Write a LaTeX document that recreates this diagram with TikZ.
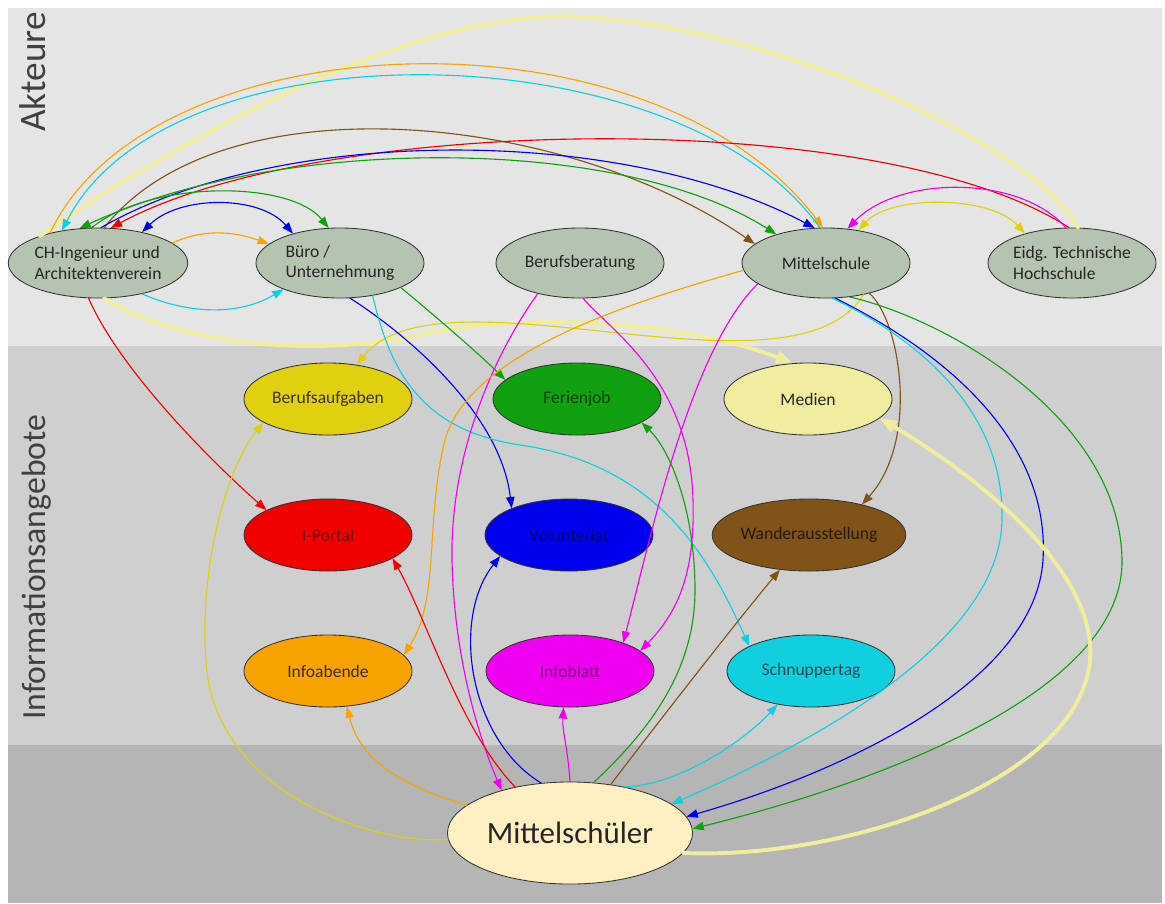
\documentclass[tikz,border=0pt]{standalone}
\usepackage{fontspec}
\setmainfont{Carlito}
\usetikzlibrary{shapes.geometric,arrows.meta}
\definecolor{bandtop}{RGB}{229,229,229}
\definecolor{bandmid}{RGB}{207,207,207}
\definecolor{bandlow}{RGB}{181,181,181}
\definecolor{actorfill}{RGB}{180,196,176}
\definecolor{cBA}{RGB}{224,208,16}
\definecolor{cFJ}{RGB}{16,160,16}
\definecolor{cMED}{RGB}{240,236,160}
\definecolor{cIP}{RGB}{240,0,0}
\definecolor{cVOL}{RGB}{0,0,240}
\definecolor{cWA}{RGB}{128,84,24}
\definecolor{cIA}{RGB}{248,164,0}
\definecolor{cIB}{RGB}{240,0,240}
\definecolor{cSCH}{RGB}{16,208,224}
\definecolor{cMS}{RGB}{255,240,196}
\newcommand{\nodesize}{\fontsize{12.5}{14.5}\selectfont}
\newcommand{\bandsize}{\fontsize{24}{28}\selectfont}
\newcommand{\pupilsize}{\fontsize{22}{26}\selectfont}

\begin{document}
\begin{tikzpicture}[x=0.025cm, y=-0.025cm, line join=round, line cap=round,
	>={Triangle[length=8pt,width=6pt]},
	actor/.style={ellipse, draw=black!80, line width=0.6pt, fill=actorfill, minimum width=4.2cm, minimum height=1.75cm, inner sep=0pt, align=left, font=\nodesize, text=black!85},
	offer/.style={ellipse, draw=black!80, line width=0.6pt, minimum width=4.2cm, minimum height=1.8cm, inner sep=0pt, font=\nodesize},
	band/.style={rotate=90, anchor=base west, inner sep=0pt, font=\bandsize, text=black!75},
	link/.style={line width=0.8pt, ->},
	broadlink/.style={line width=2.8pt, ->, >={Triangle[length=12pt,width=9pt]}}]
	\useasboundingbox (0,0) rectangle (1165,903);
	\foreach \ya/\yb/\c in {8/346/bandtop, 346/745/bandmid, 745/903/bandlow}
	\fill[\c] (8,\ya) rectangle (1162,\yb);
	\node[band, font=\fontsize{26.5}{30}\selectfont] (akteure) at (45,132) {Akteure};
	\node[band] (angebote) at (45,720) {Informationsangebote};
	
	% Akteure
	\node[actor] (ch) at (98,263) {CH-Ingenieur und\\Architektenverein};
	\node[actor] (buero) at (340,263) {Büro /\\Unternehmung};
	\node[actor] (bb) at (580,263) {Berufsberatung};
	\node[actor] (msch) at (826,263) {Mittelschule};
	\node[actor] (eth) at (1072,263) {Eidg. Technische\\Hochschule};
	
	% Informationsangebote
	\node[offer, fill=cBA, text=cBA!25!black] (ba) at (328,399) {Berufsaufgaben};
	\node[offer, fill=cFJ, text=cFJ!35!black] (fj) at (577,399) {Ferienjob};
	\node[offer, fill=cMED, text=black!85] (med) at (808,399) {Medien};
	\node[offer, fill=cIP, text=cIP!45!black] (ip) at (328,535) {I-Portal};
	\node[offer, fill=cVOL, text=cVOL!45!black] (vol) at (569,535) {Volunteriat};
	\node[offer, fill=cWA, text=cWA!30!black] (wa) at (809,535) {Wanderausstellung};
	\node[offer, fill=cIA, text=cIA!25!black] (ia) at (328,671) {Infoabende};
	\node[offer, fill=cIB, text=cIB!45!black] (ib) at (570,671) {Infoblatt};
	\node[offer, fill=cSCH, text=cSCH!35!black] (sch) at (811,671) {Schnuppertag};
	
	\node[ellipse, draw=black!80, line width=0.6pt, fill=cMS, minimum width=6.125cm, minimum height=2.55cm, inner sep=0pt, font=\pupilsize, text=black!85] (ms) at (570,833) {Mittelschüler};
	
	% Akteure untereinander
	\draw[broadlink, -, draw=cMED] (ch.155) .. controls (150,160) and (380,20) .. (560,16) .. controls (760,20) and (1030,140) .. (eth.80);
	\draw[link, draw=cIA] (ch.148) .. controls (150,20) and (650,0) .. (msch.95);
	\draw[link, draw=cSCH] (msch.100) .. controls (680,30) and (170,20) .. (ch.138);
	\draw[link, draw=cWA] (ch.80) .. controls (220,80) and (560,110) .. (msch.165);
	\draw[link, draw=cIP] (eth.95) .. controls (880,105) and (320,115) .. (ch.70);
	\draw[link, draw=cVOL] (ch.85) .. controls (280,125) and (620,125) .. (msch.108);
	\draw[link, <->, draw=cFJ] (ch.118) .. controls (280,135) and (620,135) .. (msch.150);
	\draw[link, draw=cIB] (eth.100) .. controls (1020,175) and (900,175) .. (msch.58);
	\draw[link, <->, draw=cBA] (msch.45) .. controls (890,195) and (990,195) .. (eth.148);
	\draw[link, <->, draw=cVOL] (ch.35) .. controls (180,195) and (260,195) .. (buero.148);
	\draw[link, draw=cFJ] (ch.100) .. controls (150,180) and (290,180) .. (buero.108);
	\draw[link, draw=cIA] (ch.15) .. controls (200,230) and (230,230) .. (buero.165);
	\draw[link, draw=cSCH] (ch.-35) .. controls (190,315) and (240,315) .. (buero.-155);
	
	% Akteure -> Angebote
	\draw[link, draw=cIP] (ch.-105) .. controls (120,370) and (210,460) .. (ip.158);
	\draw[broadlink, draw=cMED] (ch.-80) .. controls (170,340) and (300,360) .. (420,335) .. controls (520,312) and (680,320) .. (med.113);
	\draw[link, draw=cBA] (msch.-40) .. controls (790,410) and (440,260) .. (ba.50);
	\draw[link, draw=cVOL] (buero.-74) .. controls (400,330) and (500,410) .. (vol.155);
	\draw[link, draw=cSCH] (buero.-45) .. controls (390,370) and (420,430) .. (520,445) .. controls (660,465) and (710,560) .. (sch.158);
	\draw[link, draw=cFJ] (buero.-22) .. controls (440,320) and (480,355) .. (fj.165);
	\draw[link, draw=cIB] (bb.216) .. controls (490,360) and (450,460) .. (452,560) .. controls (454,660) and (480,740) .. (ms.148);
	\draw[link, draw=cIB] (bb.-85) .. controls (610,330) and (690,380) .. (693,500) .. controls (695,570) and (680,610) .. (ib.16);
	\draw[link, draw=cIB] (msch.197) .. controls (690,350) and (650,540) .. (ib.28);
	\draw[link, draw=cIA] (msch.185) .. controls (640,300) and (470,350) .. (445,440) .. controls (425,520) and (440,600) .. (ia.12);
	\draw[link, draw=cWA] (msch.-35) .. controls (900,320) and (920,440) .. (wa.30);
	\draw[link, draw=cVOL] (msch.-75) .. controls (960,360) and (1050,450) .. (1043,560) .. controls (1035,680) and (850,770) .. (ms.8);
	\draw[link, draw=cSCH] (msch.-80) .. controls (900,330) and (1005,400) .. (1002,520) .. controls (1000,640) and (820,740) .. (ms.16);
	\draw[link, draw=cFJ] (msch.-55) .. controls (950,320) and (1120,420) .. (1122,560) .. controls (1124,700) and (850,790) .. (ms.2);
	
	% Mittelschüler -> Angebote
	\draw[broadlink, draw=cMED] (ms.-10) .. controls (850,860) and (1080,780) .. (1090,660) .. controls (1098,560) and (950,460) .. (med.-15);
	\draw[link, draw=cBA] (ms.183) .. controls (380,845) and (230,800) .. (208,680) .. controls (195,580) and (225,470) .. (ba.200);
	\draw[link, draw=cIA] (ms.165) .. controls (400,785) and (360,760) .. (ia.-62);
	\draw[link, draw=cIP] (ms.140) .. controls (460,730) and (425,615) .. (ip.-20);
	\draw[link, draw=cVOL] (ms.120) .. controls (470,740) and (450,620) .. (vol.197);
	\draw[link, draw=cIB] (ms.90) .. controls (568,750) and (562,730) .. (ib.-100);
	\draw[link, draw=cFJ] (ms.65) .. controls (650,730) and (695,670) .. (695,590) .. controls (695,510) and (670,450) .. (fj.-20);
	\draw[link, draw=cWA] (ms.50) .. controls (660,720) and (730,630) .. (wa.230);
	\draw[link, draw=cSCH] (ms.40) .. controls (680,785) and (745,740) .. (sch.225);
\end{tikzpicture}
\end{document}
